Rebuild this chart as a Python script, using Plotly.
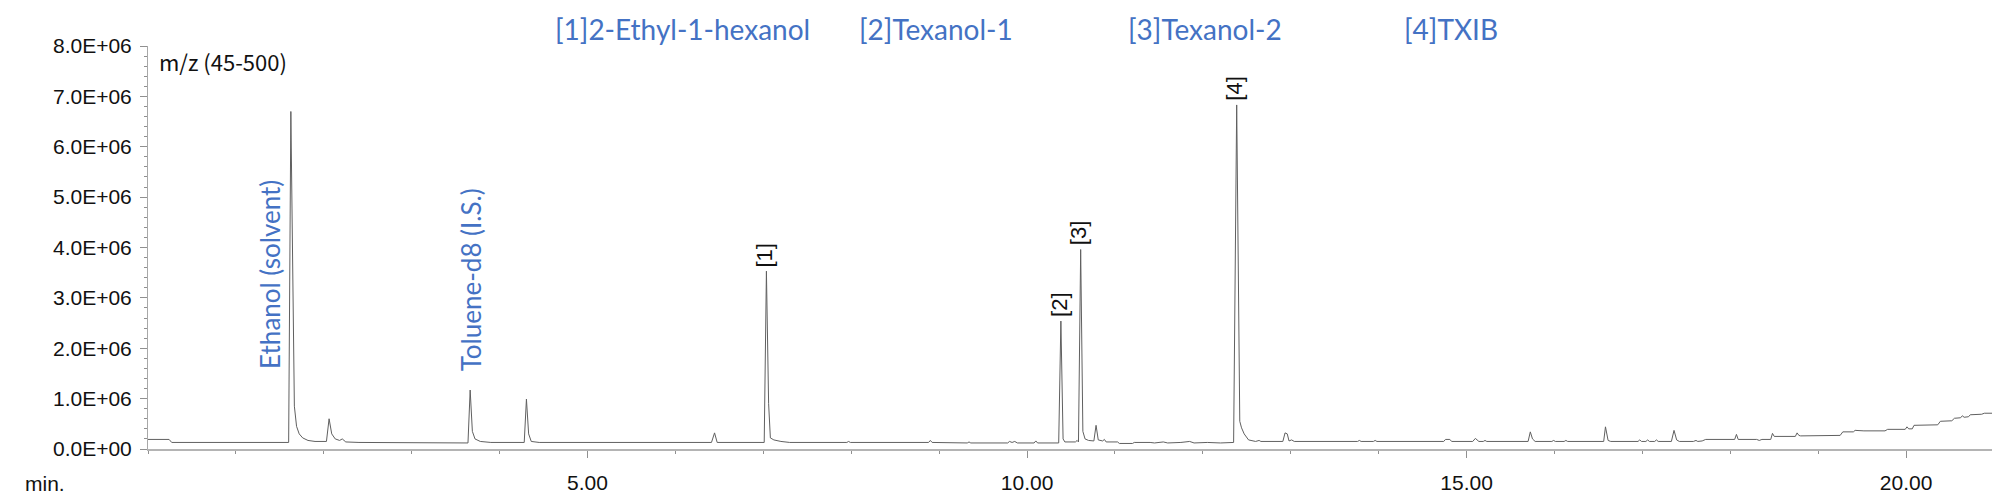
import numpy as np
import plotly.graph_objects as go

# Retention time (min) and intensity (x1e6 counts)
time_min = [
    0.00, 0.24, 0.27, 1.60, 1.625, 1.655, 1.665, 1.69, 1.72, 1.76, 1.82, 1.90,
    2.03, 2.06, 2.09, 2.13, 2.18, 2.21, 2.25, 2.40, 3.00,
    3.64, 3.665, 3.69, 3.72, 3.78, 3.90,
    4.28, 4.305, 4.33, 4.36, 4.45,
    6.41, 6.445, 6.475,
    7.01, 7.035, 7.06, 7.08, 7.12, 7.20, 7.30,
    7.95, 7.97, 7.99, 8.88, 8.90, 8.92, 9.32, 9.34, 9.36,
    9.78, 9.80, 9.83, 9.86, 9.89, 10.08, 10.10, 10.12,
    10.36, 10.385, 10.41, 10.43, 10.55, 10.57, 10.585,
    10.61, 10.635, 10.66, 10.70, 10.76, 10.785, 10.81, 10.86, 10.88, 10.90,
    11.03, 11.05, 11.20, 11.22, 11.40, 11.45, 11.55, 11.60, 11.75, 11.85, 11.90,
    12.05, 12.20, 12.35, 12.385, 12.41, 12.42, 12.44, 12.47, 12.52, 12.60,
    12.64, 12.66, 12.91, 12.935, 12.96, 12.98, 13.01, 13.04,
    13.76, 13.78, 13.80, 13.94, 13.96, 13.98,
    14.74, 14.76, 14.81, 14.83, 15.07, 15.10, 15.14, 15.19, 15.21, 15.23,
    15.70, 15.725, 15.75, 15.78, 15.97, 15.99, 16.01, 16.11, 16.13, 16.15,
    16.56, 16.58, 16.61, 16.64, 16.95, 16.97, 16.99, 17.04, 17.06, 17.08,
    17.14, 17.16, 17.18, 17.33, 17.36, 17.39, 17.42, 17.58, 17.61, 17.63,
    17.68, 17.72, 18.05, 18.07, 18.09, 18.30, 18.33, 18.36, 18.46, 18.48, 18.50,
    18.74, 18.76, 18.78, 18.80, 19.25, 19.28, 19.40, 19.42, 19.50, 19.52,
    19.76, 19.79, 19.99, 20.01, 20.03, 20.07, 20.09, 20.36, 20.39, 20.52,
    20.55, 20.62, 20.64, 20.66, 20.71, 20.73, 20.86, 20.89, 20.98,
]
intensity_e6 = [
    0.19, 0.19, 0.13, 0.13, 6.70, 1.80, 0.85, 0.45, 0.30, 0.22, 0.17, 0.15,
    0.15, 0.60, 0.30, 0.20, 0.17, 0.20, 0.14, 0.13, 0.12,
    0.12, 1.17, 0.35, 0.20, 0.15, 0.13,
    0.13, 0.99, 0.30, 0.15, 0.13,
    0.13, 0.32, 0.13,
    0.13, 3.53, 0.90, 0.22, 0.18, 0.15, 0.13,
    0.13, 0.15, 0.13, 0.13, 0.17, 0.13, 0.12, 0.14, 0.12,
    0.12, 0.15, 0.13, 0.15, 0.12, 0.12, 0.16, 0.12,
    0.12, 2.54, 0.20, 0.14, 0.14, 0.17, 0.14,
    3.96, 0.35, 0.20, 0.17, 0.16, 0.47, 0.18, 0.16, 0.19, 0.14,
    0.14, 0.11, 0.11, 0.13, 0.13, 0.12, 0.14, 0.12, 0.13, 0.15, 0.12,
    0.13, 0.12, 0.13, 6.83, 1.60, 0.55, 0.42, 0.30, 0.18, 0.15,
    0.17, 0.15, 0.15, 0.32, 0.30, 0.16, 0.18, 0.15,
    0.15, 0.17, 0.15, 0.15, 0.17, 0.15,
    0.15, 0.19, 0.19, 0.15, 0.15, 0.21, 0.15, 0.15, 0.17, 0.15,
    0.15, 0.34, 0.20, 0.15, 0.15, 0.17, 0.15, 0.15, 0.17, 0.15,
    0.15, 0.44, 0.17, 0.15, 0.15, 0.18, 0.15, 0.15, 0.18, 0.15,
    0.15, 0.18, 0.15, 0.15, 0.37, 0.18, 0.15, 0.15, 0.17, 0.15,
    0.16, 0.19, 0.19, 0.29, 0.19, 0.19, 0.17, 0.19, 0.19, 0.31, 0.25,
    0.25, 0.32, 0.27, 0.26, 0.27, 0.34, 0.34, 0.37, 0.35, 0.36,
    0.36, 0.39, 0.39, 0.44, 0.40, 0.40, 0.47, 0.48, 0.55, 0.56,
    0.61, 0.62, 0.66, 0.63, 0.64, 0.68, 0.69, 0.71, 0.71,
]

# Peak labels (time, apex intensity x1e6)
peak_names = ["[1]", "[2]", "[3]", "[4]"]
peak_times = [7.035, 10.385, 10.61, 12.385]
peak_heights_e6 = [3.53, 2.54, 3.96, 6.83]

# Compound legend along the top
legend_texts = ["[1]2-Ethyl-1-hexanol", "[2]Texanol-1", "[3]Texanol-2", "[4]TXIB"]
legend_x = [6.08, 8.96, 12.03, 14.82]

# Vertical blue labels (text, time, centre intensity x1e6)
side_texts = ["Ethanol (solvent)", "Toluene-d8 (I.S.)"]
side_x = [1.39, 3.67]
side_y_e6 = [3.46, 3.36]

x_tickvals = [5, 10, 15, 20]
x_ticktext = ["5.00", "10.00", "15.00", "20.00"]
y_tickvals = [0, 1e6, 2e6, 3e6, 4e6, 5e6, 6e6, 7e6, 8e6]
y_ticktext = ["0.0E+00", "1.0E+06", "2.0E+06", "3.0E+06", "4.0E+06",
              "5.0E+06", "6.0E+06", "7.0E+06", "8.0E+06"]

BLUE = "#4472C4"
AXIS_FONT = dict(family="Liberation Sans, Arial, sans-serif", size=21, color="#111111")
PEAK_FONT = dict(family="Liberation Sans, Arial, sans-serif", size=22, color="#111111")
BLUE_FONT = dict(family="Lato, sans-serif", size=28, color=BLUE)
SIDE_FONT = dict(family="Lato, sans-serif", size=26, color=BLUE)

y_vals = np.array(intensity_e6) * 1e6

fig = go.Figure()
fig.add_trace(go.Scatter(
    x=time_min, y=y_vals, mode="lines",
    line=dict(color="#606060", width=1),
    hoverinfo="skip", showlegend=False,
))

annotations = []
for name, t, h in zip(peak_names, peak_times, peak_heights_e6):
    annotations.append(dict(
        x=t, y=h * 1e6, xref="x", yref="y", text=name, showarrow=False,
        textangle=-90, xanchor="center", yanchor="bottom", xshift=-2, yshift=2,
        font=PEAK_FONT,
    ))
for txt, lx in zip(legend_texts, legend_x):
    annotations.append(dict(
        x=lx, y=1.043, xref="x", yref="paper", text=txt, showarrow=False,
        xanchor="center", yanchor="middle", font=BLUE_FONT,
    ))
for txt, sx, sy in zip(side_texts, side_x, side_y_e6):
    annotations.append(dict(
        x=sx, y=sy * 1e6, xref="x", yref="y", text=txt, showarrow=False,
        textangle=-90, xanchor="center", yanchor="middle", font=SIDE_FONT,
    ))
annotations.append(dict(
    x=0.005, y=0.962, xref="paper", yref="paper", text="m/z (45-500)",
    showarrow=False, xanchor="left", yanchor="middle",
    font=dict(family="Noto Sans CJK JP, sans-serif", size=22, color="#111111"),
))
annotations.append(dict(
    x=-0.0677, y=-0.085, xref="paper", yref="paper", text="min.",
    showarrow=False, xanchor="left", yanchor="middle", font=AXIS_FONT,
))

fig.update_layout(
    width=2000, height=498,
    margin=dict(l=140, r=14, t=38, b=48),
    paper_bgcolor="white", plot_bgcolor="white",
    annotations=annotations,
    showlegend=False,
)
fig.update_xaxes(
    range=[0, 21], tickvals=x_tickvals, ticktext=x_ticktext,
    showgrid=False, zeroline=False,
    showline=True, linecolor="#b4b4b4", linewidth=2,
    ticks="outside", ticklen=7, tickcolor="#909090", tickwidth=1,
    minor=dict(tickmode="linear", tick0=0, dtick=1, ticks="outside",
               ticklen=3, tickcolor="#909090", showgrid=False),
    tickfont=AXIS_FONT, ticklabelstandoff=7,
)
fig.update_yaxes(
    range=[0, 8e6], tickvals=y_tickvals, ticktext=y_ticktext,
    showgrid=False, zeroline=False,
    showline=True, linecolor="#a8a8a8", linewidth=1,
    ticks="outside", ticklen=7, tickcolor="#909090", tickwidth=1,
    minor=dict(tickmode="linear", tick0=0, dtick=2e5, ticks="outside",
               ticklen=3, tickcolor="#909090", showgrid=False),
    tickfont=AXIS_FONT, ticklabelstandoff=4,
)

fig.write_html("out.html")
